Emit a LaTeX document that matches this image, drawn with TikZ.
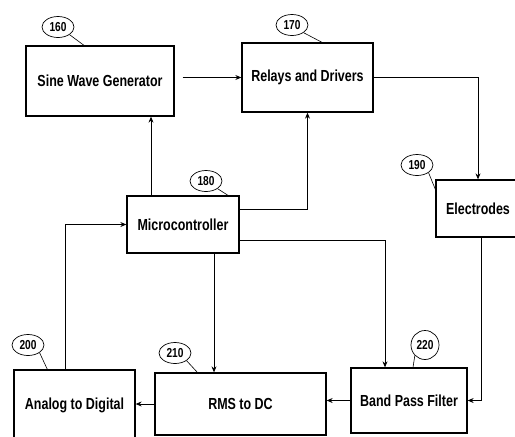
\documentclass[tikz,border=0pt]{standalone}
\usepackage{fontspec}
\usepackage{tikz}
\usetikzlibrary{arrows.meta,shapes.geometric,calc}
\newfontfamily\narrowbold{Liberation Sans}[FakeStretch=0.78,BoldFont={Liberation Sans Bold}]

\begin{document}
\begin{tikzpicture}[x=1pt, y=-1pt,
    block/.style={draw, line width=1.3pt, minimum width=#1, font=\narrowbold\bfseries\fontsize{16}{18}\selectfont},
    refnum/.style={draw, ellipse, line width=0.7pt, inner sep=0pt, minimum width=32pt, minimum height=21pt, font=\narrowbold\bfseries\fontsize{13}{15}\selectfont},
    arrow/.style={-{Stealth[length=6pt, width=5pt]}, line width=0.8pt},
    leader/.style={line width=0.6pt},
  ]
  \useasboundingbox (0,0) rectangle (515,437);

  % Boxes
  \node[block=148pt, minimum height=70pt] (swg) at (100,81) {Sine Wave Generator};
  \node[block=131pt, minimum height=69pt] (relays) at (307.5,77.5) {Relays and Drivers};
  \node[block=112pt, minimum height=57pt] (micro) at (183,224.5) {Microcontroller};
  \node[block=84pt, minimum height=57pt] (elec) at (478,208.5) {Electrodes};
  \node[block=121pt, minimum height=70pt] (adc) at (74.5,405) {Analog to Digital};
  \node[block=171pt, minimum height=62pt] (rms) at (240.5,404) {RMS to DC};
  \node[block=116pt, minimum height=65pt] (bpf) at (409,400.5) {Band Pass Filter};

  % Reference numbers
  \node[refnum] (n160) at (58,27) {160};
  \node[refnum] (n170) at (292,25) {170};
  \node[refnum] (n180) at (206,181) {180};
  \node[refnum] (n190) at (417,165) {190};
  \node[refnum] (n200) at (28,345) {200};
  \node[refnum] (n210) at (175,353) {210};
  \node[refnum, minimum width=28pt, minimum height=29pt] (n220) at (425,345) {220};

  \draw[leader] (n160.south east) -- ([xshift=-16pt]swg.north);
  \draw[leader] (n170.south east) -- ([xshift=14.5pt]relays.north);
  \draw[leader] (n180.south east) -- ([xshift=45pt]micro.north);
  \draw[leader] (n190.south east) -- ([yshift=-10pt]elec.north west);
  \draw[leader] (n200.south east) -- ([xshift=34pt]adc.north west);
  \draw[leader] (n210.south east) -- ([xshift=43pt]rms.north west);
  \draw[leader] (n220.south west) -- ([xshift=4pt]bpf.north);

  % Arrows
  \draw[arrow] ([xshift=8pt]swg.east |- relays.west) -- (relays.west);
  \draw[arrow] (relays.east) -| (elec.north);
  \draw[arrow] ([xshift=-32pt]micro.north) -- ([xshift=-32pt]micro.north |- swg.south);
  \draw[arrow] ([yshift=15.5pt]micro.east) -| (relays.south);
  \draw[arrow] ([yshift=-15.5pt]micro.east) -| ([xshift=-24pt]bpf.north);
  \draw[arrow] ([xshift=31pt]micro.south) -- ([xshift=31pt]micro.south |- rms.north);
  \draw[arrow] ([xshift=3pt]elec.south) |- (bpf.east);
  \draw[arrow] (bpf.west) -- (rms.east |- bpf.west);
  \draw[arrow] (rms.west) -- (adc.east |- rms.west);
  \draw[arrow] ([xshift=-9.5pt]adc.north) |- (micro.west);
\end{tikzpicture}
\end{document}
